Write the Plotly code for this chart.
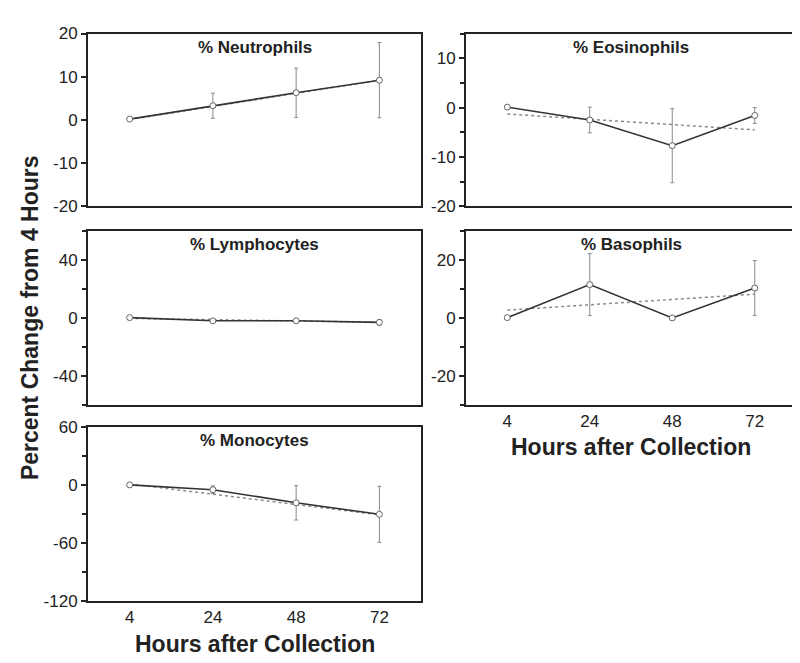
import plotly.graph_objects as go

# sampling times (plotted as evenly spaced categories)
hours = ["4", "24", "48", "72"]

# mean percent change from 4 hours, with error bar half-widths
neutro = [0.2, 3.3, 6.3, 9.2]
neutro_err = [0, 2.9, 5.7, 8.7]
eosino = [0.1, -2.5, -7.7, -1.6]
eosino_err = [0, 2.6, 7.5, 1.6]
lympho = [0.0, -2.2, -2.2, -3.3]
lympho_err = [0, 1.2, 1.2, 2.0]
baso = [0.0, 11.4, -0.1, 10.2]
baso_err = [0, 10.7, 0, 9.5]
mono = [0.0, -5.0, -18.6, -30.5]
mono_err = [0, 4.0, 17.8, 29.0]

# dotted fitted trend lines (endpoints at 4 h and 72 h)
trend_hours = ["4", "72"]
neutro_fit = [0.1, 9.2]
eosino_fit = [-1.3, -4.5]
lympho_fit = [-0.5, -3.2]
baso_fit = [2.6, 8.1]
mono_fit = [1.0, -31.0]

# y tick values and their labels (plain hyphen minus, as in the original)
neutro_ticks = [-20, -10, 0, 10, 20]
eosino_ticks = [-20, -10, 0, 10]
lympho_ticks = [-40, 0, 40]
baso_ticks = [-20, 0, 20]
mono_ticks = [-120, -60, 0, 60]

panels = [
    # name, values, errors, fit, y range, ticks, minor dtick, x px, y px, show x labels
    ("% Neutrophils", neutro, neutro_err, neutro_fit, [-20, 20], neutro_ticks, None, (80, 413), (17, 195), False),
    ("% Eosinophils", eosino, eosino_err, eosino_fit, [-20, 15], eosino_ticks, 5, (458, 788), (17, 195), False),
    ("% Lymphocytes", lympho, lympho_err, lympho_fit, [-60, 60], lympho_ticks, 20, (80, 413), (220, 399), False),
    ("% Basophils", baso, baso_err, baso_fit, [-30, 30], baso_ticks, 10, (458, 788), (220, 399), True),
    ("% Monocytes", mono, mono_err, mono_fit, [-120, 60], mono_ticks, 30, (80, 413), (422, 601), True),
]

W, H = 800, 663
FONT = "Arial, Liberation Sans, sans-serif"
INK = "#222222"

fig = go.Figure()
annotations = []

for i, (name, vals, errs, fit, yr, yticks, mdt, xpx, ypx, showx) in enumerate(panels):
    n = "" if i == 0 else str(i + 1)
    xa, ya = "x" + n, "y" + n

    fig.add_trace(go.Scatter(
        x=trend_hours, y=fit, xaxis=xa, yaxis=ya, mode="lines",
        line=dict(color="#8a8a8a", width=1.5, dash="dot"),
        showlegend=False, hoverinfo="skip",
    ))
    fig.add_trace(go.Scatter(
        x=hours, y=vals, xaxis=xa, yaxis=ya, mode="lines+markers",
        line=dict(color="#333333", width=1.6),
        marker=dict(symbol="circle", size=6, color="white",
                    line=dict(color="#666666", width=1)),
        error_y=dict(type="data", array=errs, visible=True,
                     color="#8a8a8a", thickness=1, width=2),
        showlegend=False, name=name,
    ))

    xdom = [xpx[0] / W, xpx[1] / W]
    ydom = [1 - ypx[1] / H, 1 - ypx[0] / H]

    xaxis = dict(
        domain=xdom, anchor=ya, type="category", range=[-0.5, 3.5],
        categoryorder="array", categoryarray=hours,
        showline=True, mirror=True, linecolor=INK, linewidth=2,
        showgrid=False, zeroline=False, ticks="",
        showticklabels=showx,
        tickfont=dict(family=FONT, size=17, color=INK),
    )
    yaxis = dict(
        domain=ydom, anchor=xa, range=yr,
        tickmode="array", tickvals=yticks, ticktext=[str(t) for t in yticks],
        showline=True, mirror=True, linecolor=INK, linewidth=2,
        showgrid=False, zeroline=False,
        ticks="outside", ticklen=5, tickwidth=1.5, tickcolor=INK,
        tickfont=dict(family=FONT, size=17, color=INK),
    )
    if mdt:
        yaxis["minor"] = dict(tickmode="linear", dtick=mdt, tick0=0, ticks="outside",
                              ticklen=4, tickwidth=1.5, tickcolor=INK, showgrid=False)
    fig.update_layout({"xaxis" + n: xaxis, "yaxis" + n: yaxis})

    annotations.append(dict(
        text="<b>" + name + "</b>", xref="paper", yref="paper",
        x=sum(xdom) / 2, y=ydom[1] - 14 / H, xanchor="center", yanchor="middle",
        showarrow=False, font=dict(family=FONT, size=17, color=INK),
    ))
    if showx:
        annotations.append(dict(
            text="<b>Hours after Collection</b>", xref="paper", yref="paper",
            x=sum(xdom) / 2, y=ydom[0] - 44 / H, xanchor="center", yanchor="middle",
            showarrow=False, font=dict(family=FONT, size=23, color=INK),
        ))

annotations.append(dict(
    text="<b>Percent Change from 4 Hours</b>", xref="paper", yref="paper",
    x=22 / W, y=1 - 310 / H, xanchor="center", yanchor="middle", textangle=-90,
    showarrow=False, font=dict(family=FONT, size=23, color=INK),
))

fig.update_layout(
    width=W, height=H,
    margin=dict(l=0, r=0, t=0, b=0),
    paper_bgcolor="white", plot_bgcolor="white",
    annotations=annotations,
)

fig.write_html("out.html")
